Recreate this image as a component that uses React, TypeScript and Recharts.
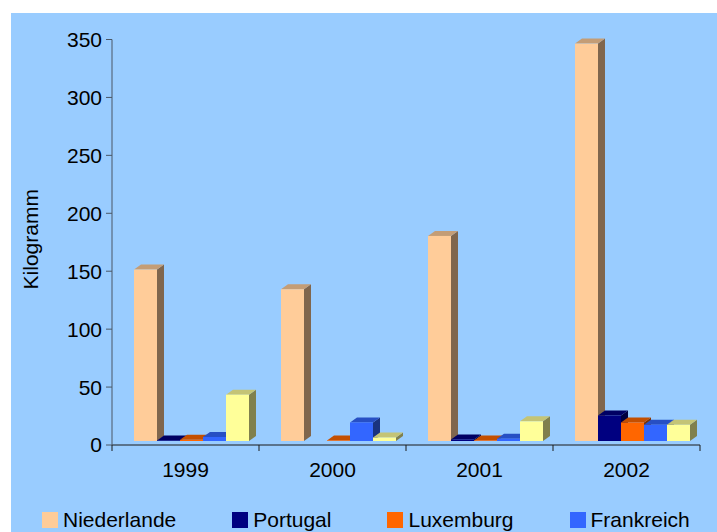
import React from 'react';
import { BarChart, Bar, XAxis, YAxis, Label, Legend } from 'recharts';

// Data
const years = ['1999', '2000', '2001', '2002'];
const niederlande = [148, 131, 177, 343];
const portugal = [0.5, 0, 1.3, 22];
const luxemburg = [1, 0.5, 0.5, 16];
const frankreich = [3.5, 16, 2, 14];
const belgien = [40, 3, 17, 14];
const yTicks = [0, 50, 100, 150, 200, 250, 300, 350];

const seriesNames = ['Niederlande', 'Portugal', 'Luxemburg', 'Frankreich', 'Belgien'];
const seriesColors = ['#FFCC99', '#000080', '#FF6600', '#3366FF', '#FFFF99'];
const seriesValues = [niederlande, portugal, luxemburg, frankreich, belgien];

const data = years.map((year, i) => {
  const row: Record<string, string | number> = { year };
  seriesNames.forEach((name, s) => {
    row[name] = seriesValues[s][i];
  });
  return row;
});

const FONT = '"Liberation Sans", Arial, sans-serif';
const FONT_SIZE = 21;

// 3D look: depth of the column and offset of the front face
const DX = 7;
const DY = 5;
const SHIFT_X = 6;
const SHIFT_Y = 4;

const shade = (hex: string, f: number) => {
  const n = parseInt(hex.slice(1), 16);
  const r = Math.round(((n >> 16) & 255) * f);
  const g = Math.round(((n >> 8) & 255) * f);
  const b = Math.round((n & 255) * f);
  return `rgb(${r},${g},${b})`;
};

const make3DBar = (color: string) => (props: any) => {
  const { x, y, width, height } = props;
  if (!height || height <= 0) return <g />;
  const fx = x + SHIFT_X;
  const fy = y - SHIFT_Y;
  const top = `${fx},${fy} ${fx + DX},${fy - DY} ${fx + width + DX},${fy - DY} ${fx + width},${fy}`;
  const side = `${fx + width},${fy} ${fx + width + DX},${fy - DY} ${fx + width + DX},${fy - DY + height} ${fx + width},${fy + height}`;
  return (
    <g>
      <polygon points={side} fill={shade(color, 0.5)} />
      <polygon points={top} fill={shade(color, 0.77)} />
      <rect x={fx} y={fy} width={width} height={height} fill={color} />
    </g>
  );
};

const YearTick = (props: any) => {
  const { x, y, payload, index } = props;
  const half = (props.width || 588) / years.length / 2;
  return (
    <g>
      <line x1={x - half} y1={y} x2={x - half} y2={y + 6} stroke="#1a1a1a" />
      {index === years.length - 1 && (
        <line x1={x + half} y1={y} x2={x + half} y2={y + 6} stroke="#1a1a1a" />
      )}
      <text x={x} y={y + 32} textAnchor="middle" fill="#000" fontSize={FONT_SIZE} fontFamily={FONT}>
        {payload.value}
      </text>
    </g>
  );
};

const renderYLabel = (props: any) => {
  const vb = props.viewBox || { y: 26, height: 406 };
  const cx = 19.5;
  const cy = vb.y + vb.height / 2 - 3;
  return (
    <text
      x={cx}
      y={cy}
      transform={`rotate(-90, ${cx}, ${cy})`}
      textAnchor="middle"
      dominantBaseline="central"
      fill="#000"
      fontSize={FONT_SIZE}
      fontFamily={FONT}
    >
      Kilogramm
    </text>
  );
};

const renderLegend = () => (
  <div
    style={{
      display: 'flex',
      height: 20,
      alignItems: 'center',
      whiteSpace: 'nowrap',
      fontFamily: FONT,
      fontSize: FONT_SIZE,
      color: '#000',
    }}
  >
    {seriesNames.map((name, i) => (
      <div key={name} style={{ display: 'flex', alignItems: 'center', marginRight: 56 }}>
        <span style={{ width: 16, height: 16, background: seriesColors[i], marginRight: 5 }} />
        <span>{name}</span>
      </div>
    ))}
  </div>
);

const App: React.FC = () => {
  return (
    <div
      style={{
        position: 'fixed',
        left: 11,
        top: 13,
        width: 706,
        height: 519,
        background: '#99CCFF',
        overflow: 'hidden',
        fontFamily: FONT,
      }}
    >
      <BarChart
        width={706}
        height={519}
        data={data}
        margin={{ top: 26.5, right: 17, left: 0, bottom: 37 }}
        barGap={0}
        barSize={23}
      >
        <XAxis
          dataKey="year"
          height={30}
          axisLine={{ stroke: '#1a1a1a' }}
          tickLine={false}
          tickSize={0}
          tickMargin={0}
          tick={<YearTick />}
          interval={0}
        />
        <YAxis
          width={101}
          domain={[0, 350]}
          ticks={yTicks}
          interval={0}
          axisLine={{ stroke: '#4a5766' }}
          tickLine={{ stroke: '#4a5766' }}
          tickSize={6}
          tickMargin={4}
          tick={{ fill: '#000', fontSize: FONT_SIZE, fontFamily: FONT }}
        >
          <Label content={renderYLabel} />
        </YAxis>
        <Legend
          content={renderLegend}
          verticalAlign="bottom"
          wrapperStyle={{ top: 497, left: 31, width: 900, height: 20 }}
        />
        {seriesNames.map((name, i) => (
          <Bar
            key={name}
            dataKey={name}
            fill={seriesColors[i]}
            shape={make3DBar(seriesColors[i])}
            isAnimationActive={false}
          />
        ))}
      </BarChart>
    </div>
  );
};

export default App;
